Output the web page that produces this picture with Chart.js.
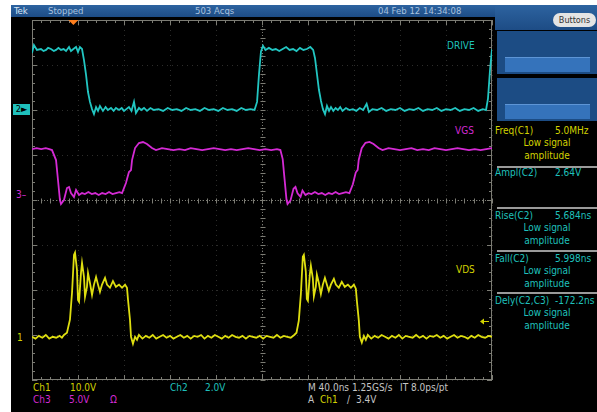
<!DOCTYPE html>
<html>
<head>
<meta charset="utf-8">
<script src="https://cdn.jsdelivr.net/npm/chart.js@4.4.1/dist/chart.umd.min.js"></script>
<style>
 body { margin:0; background:#fff; width:597px; height:412px; overflow:hidden; position:relative;
        font-family:"DejaVu Sans Condensed","Liberation Sans Narrow","Liberation Sans",sans-serif; }
 #scope { position:absolute; left:11px; top:5px; width:586px; height:407px; background:#000; }
 #topbar { position:absolute; left:11px; top:5px; width:586px; height:12px; background:linear-gradient(#2d63a0,#1d4c85); }
 #topright { position:absolute; left:495px; top:5px; width:102px; height:25px; background:linear-gradient(#2d63a0,#1d4c85); }
 .box { position:absolute; left:497px; width:100px; height:43px; background:#1c4c84; }
 .inner { position:absolute; left:8px; width:85px; height:14px; background:#3573bb; border-top:1px solid #5d95d6; }
 .sep { position:absolute; left:497px; width:100px; height:2px; background:#9a9a9a; }
 #btn { position:absolute; left:553px; top:13px; width:43px; height:14px; border-radius:7px; background:#e4e4e4;
        color:#333; font-size:9px; line-height:14px; text-align:center; }
 .t { position:absolute; font-size:10px; line-height:10px; white-space:nowrap; }
 .s { font-size:9.5px; }
 .y { color:#d2d200; } .c { color:#1fc0bc; } .m { color:#d22ad2; } .w { color:#c4c4c4; } .b { color:#a9c2df; }
 canvas { position:absolute; left:0; top:0; }
</style>
</head>
<body>
<div id="scope"></div>
<div id="topbar"></div>
<div id="topright"></div>
<div id="btn">Buttons</div>
<div class="box" style="top:31px"><div class="inner" style="top:26px"></div></div>
<div class="box" style="top:78px"><div class="inner" style="top:26px"></div></div>
<div class="sep" style="top:166px"></div>
<div class="sep" style="top:207px"></div>
<div class="sep" style="top:250px"></div>
<div class="sep" style="top:292px"></div>

<div class="t s" style="left:14px;top:6px;color:#d8e6f4">Tek</div>
<div class="t s b" style="left:48px;top:6px">Stopped</div>
<div class="t s b" style="left:195px;top:6px">503 Acqs</div>
<div class="t s b" style="left:378px;top:6px">04 Feb 12 14:34:08</div>

<div id="meas"></div>

<div class="t c" style="left:447px;top:41px">DRIVE</div>
<div class="t m" style="left:455px;top:126px">VGS</div>
<div class="t y" style="left:456px;top:265px">VDS</div>

<div class="t" style="left:13px;top:104px;width:17px;height:11px;background:#1fc0bc;color:#000;text-align:center;line-height:11px;font-size:9px">2&#9658;</div>
<div class="t m" style="left:16px;top:190px">3&#8211;</div>
<div class="t y" style="left:17px;top:333px">1</div>

<div class="t y" style="left:33px;top:383px">Ch1</div>
<div class="t y" style="left:70px;top:383px">10.0V</div>
<div class="t c" style="left:170px;top:383px">Ch2</div>
<div class="t c" style="left:205px;top:383px">2.0V</div>
<div class="t m" style="left:33px;top:395px">Ch3</div>
<div class="t m" style="left:69px;top:395px">5.0V</div>
<div class="t m" style="left:110px;top:395px">&#937;</div>
<div class="t w" style="left:308px;top:383px">M 40.0ns 1.25GS/s</div>
<div class="t w" style="left:400px;top:383px">IT 8.0ps/pt</div>
<div class="t w" style="left:308px;top:395px">A</div>
<div class="t y" style="left:320px;top:395px">Ch1</div>
<div class="t w" style="left:347px;top:395px">/</div>
<div class="t w" style="left:356px;top:395px">3.4V</div>

<canvas id="c" width="597" height="412"></canvas>

<script>
// time in ns, amplitude in volts
var drivePts = [
 [0,2.53],[1.7,2.89],[4.3,2.67],[7.8,2.71],[10,2.62],[12.2,2.67],[14,2.76],[16.5,2.71],[19,2.62],[20.9,2.67],[23,2.76],[25.2,2.67],[27.5,2.71],[29.6,2.62],[32.2,2.8],[33.9,2.62],[36,2.71],[38.3,2.8],[40,2.58],[41.7,2.8],[43.5,2.71],
 [45.2,2.22],[47,1.56],[48.7,0.8],[50.4,0.36],[52.2,0.04],[53.9,-0.18],[55.7,0.13],[57.4,-0.04],[59.1,0.18],[61.7,-0.04],[64,0.13],[66,0],[68.7,0.09],[71,-0.04],[73,0.09],[75.7,0],[78,0.09],[80,-0.04],[82,0.04],[84.3,0.13],[86.5,-0.04],[88.7,0.36],[90.4,-0.13],[93,0.09],[95,0],[97.4,0.09],[100,-0.04],[103,0.09],[106,0],[110,0.04],[114,-0.04],[118,0.09],[122,0],[126,0.04],[130,-0.04],[134,0.09],[138,0],[142,0.04],[146,-0.04],[150,0.09],[154,0],[158,0.04],[162,-0.04],[166,0.09],[170,0],[174,0.04],[178,-0.04],[182,0.09],[186,0],[190,0.04],[193.5,0],
 [195.7,0.36],[197.4,1.6],[199.1,2.6],[200.9,2.85],[203,2.67],[206,2.76],[209,2.67],[212,2.71],[215,2.62],[218,2.71],[221,2.8],[224,2.67],[227,2.71],[230,2.62],[233,2.76],[236,2.67],[239,2.71],[242,2.8],[244.5,2.67],
 [246.1,2.3],[247.8,1.6],[249.5,0.9],[251.3,0.4],[253,0.04],[254.8,-0.18],[256.5,0.18],[258.3,-0.04],[260,0.13],[262,-0.04],[264,0.09],[266,0],[268,0.13],[270,-0.04],[273,0.09],[276,0],[279,0.04],[282,-0.04],[285,0.09],[288,0],[291,0.27],[293,-0.09],[296,0.04],[300,0],[304,0.09],[308,-0.04],[312,0.04],[316,0],[320,0.09],[324,-0.04],[328,0.04],[332,0],[336,0.09],[340,-0.04],[344,0.04],[348,0],[352,0.09],[356,-0.04],[360,0.04],[364,0],[368,0.09],[372,-0.04],[376,0.04],[380,0],[384,0.09],[388,-0.04],[392,0.04],[394.8,0],[396.5,0.5],[398.3,1.8],[400,2.7]
];
var vgsPts = [
 [0,5.11],[4,5.22],[8,5.11],[12,5.22],[15,5.11],[17.4,5.0],[20.9,3.89],[22.6,1.67],[24.3,-0.56],[25.2,-1.0],[27.8,-0.56],[30.4,0.78],[32.2,0.89],[33.9,0.22],[36.5,-0.22],[38.3,0.56],[40.9,0],[43.5,0.22],[46,0.11],[49,0.33],[52,0.11],[55,0.22],[58,0],[61,0.22],[64,0.11],[67,0.33],[70,0.11],[73,0.22],[76,0.33],[78.3,0.22],
 [81.7,1.33],[84.3,2.56],[86.1,2.78],[87,3.89],[89.6,5.22],[93,5.78],[96.5,5.89],[100,5.67],[104.3,5.22],[107.8,5.0],[113,5.22],[118,5.11],[123,5.0],[128,5.11],[133,5.0],[138,5.22],[143,5.11],[148,5.0],[153,5.11],[158,5.22],[163,5.11],[168,5.0],[173,5.11],[178,5.0],[183,5.11],[188,5.22],[193,5.11],[198,5.0],[203,5.11],[208,5.0],[213,5.11],[216,5.0],
 [218,4.0],[219.6,1.8],[221.3,-0.5],[222.2,-1.0],[224.8,-0.6],[227.4,0.7],[229.1,0.9],[230.9,0.2],[233.5,-0.2],[235.2,0.5],[237.8,0],[240.4,0.2],[243,0.11],[246,0.33],[249,0.11],[252,0.22],[255,0],[258,0.22],[261,0.11],[264,0.33],[267,0.11],[270,0.22],[273,0.33],[276,0.22],
 [279,1.2],[281.5,2.5],[283.2,2.8],[284.1,3.9],[286.7,5.2],[290,5.8],[293.5,5.9],[297,5.67],[301.3,5.22],[304.8,5.0],[310,5.22],[315,5.11],[320,5.0],[325,5.11],[330,5.22],[335,5.0],[340,5.11],[345,5.0],[350,5.22],[355,5.11],[360,5.0],[365,5.11],[370,5.22],[375,5.11],[380,5.0],[385,5.11],[390,5.0],[395,5.11],[400,5.22]
];
var vdsPts = [
 [0,0],[3,-0.4],[6,0.2],[9,-0.2],[12,0.4],[15,-0.4],[18,0],[21,-0.2],[24,0.2],[26,-0.2],[27.8,0.4],[30.4,0.9],
 [33,3.8],[34.8,9.8],[36.5,18.2],[37.4,18.7],[39.1,14.9],[40,8.2],[40.9,7.8],[42.6,14.2],[43.5,16.4],[45.2,13.3],[46.1,8.9],[47.8,11.1],[48.7,14.2],[50.4,12.0],[52.2,9.3],[53.9,11.6],[55.7,13.3],[57.4,11.6],[59.1,10.0],[60.9,11.6],[63.5,13.1],[65.2,11.6],[67.8,10.9],[70.4,12.4],[73,11.1],[75.7,11.6],[78.3,10.9],[80.9,11.6],[82.6,10.9],
 [83.5,8.2],[85.2,3.8],[86.1,0],[87.8,-1.56],[89.6,0],[91.3,-0.67],[93,0.4],[96,-0.4],[99,0.2],[102,-0.2],[105,0.4],[108,-0.4],[111,0],[114,0.4],[117,-0.2],[120,0.2],[123,-0.4],[126,0],[129,0.4],[132,-0.2],[135,0.2],[138,-0.4],[141,0.2],[144,0],[147,0.4],[150,-0.4],[153,0.2],[156,-0.2],[159,0.4],[162,0],[165,-0.4],[168,0.2],[171,-0.2],[174,0.4],[177,0],[180,-0.2],[183,0.2],[186,-0.4],[189,0.2],[192,0],[195,-0.2],[198,0.2],[201,-0.4],[204,0.2],[207,0],[210,-0.2],[213,0.4],[216,-0.2],[219,0.2],[222,0],[225,-0.2],[228,0.4],[230,0.9],
 [232,3.6],[233.8,9.5],[235.5,17.8],[236.4,18.2],[238.1,14.5],[239,8.4],[239.9,8.0],[241.6,13.8],[242.5,15.8],[244.2,13.0],[245.1,9.0],[246.8,11.1],[247.7,13.8],[249.4,12.0],[251.2,9.5],[252.9,11.6],[254.7,13.1],[256.4,11.6],[258.1,10.2],[259.9,11.6],[262.5,12.9],[264.2,11.6],[266.8,10.9],[269.4,12.2],[272,11.1],[274.7,11.6],[277.3,10.9],[279.9,11.6],[281.6,10.7],
 [282.5,8.0],[284.2,3.6],[285.1,0],[286.8,-1.3],[288.6,0.2],[290.3,-0.67],[292,0.4],[295,-0.4],[298,0.2],[301,-0.2],[304,0.4],[307,0],[310,-0.4],[313,0.2],[316,-0.2],[319,0.4],[322,-0.4],[325,0.2],[328,0],[331,-0.2],[334,0.4],[337,-0.2],[340,0.2],[343,-0.4],[346,0.2],[349,0],[352,0.4],[355,-0.2],[358,0.2],[361,-0.4],[364,0],[367,0.4],[370,-0.2],[373,0.2],[376,0],[379,-0.4],[382,0.2],[385,-0.2],[388,0.4],[391,0],[394,-0.2],[397,0.2],[400,0]
];

// scope settings: volts per division and ground position in divisions from centre
var ch1 = { vdiv: 10, ground: -3.04 };
var ch2 = { vdiv: 2, ground: 2.0 };
var ch3 = { vdiv: 5, ground: 0.11 };
var nsPerDiv = 40;
var trigTime = 36, trigLevel = 3.4;

var measLabels = ['Freq(C1)', 'Ampl(C2)', 'Rise(C2)', 'Fall(C2)', 'Dely(C2,C3)'];
var measValues = ['5.0MHz', '2.64V', '5.684ns', '5.998ns', '-172.2ns'];
var measLow = [true, false, true, true, true];
var measTop = [126, 168, 211, 254, 296];

var meas = document.getElementById('meas');
measLabels.forEach(function(l, i) {
  var cls = i === 0 ? 'y' : 'c';
  var h = '<div class="t ' + cls + '" style="left:495px;top:' + measTop[i] + 'px">' + l + '</div>' +
          '<div class="t ' + cls + '" style="left:555px;top:' + measTop[i] + 'px">' + measValues[i] + '</div>';
  if (measLow[i]) {
    h += '<div class="t ' + cls + '" style="left:497px;width:100px;text-align:center;top:' + (measTop[i] + 12) + 'px">Low signal</div>' +
         '<div class="t ' + cls + '" style="left:497px;width:100px;text-align:center;top:' + (measTop[i] + 25) + 'px">amplitude</div>';
  }
  meas.innerHTML += h;
});

function toXY(p) { return { x: p[0], y: p[1] }; }
function chAxis(ch) { return { display: false, min: (-4 - ch.ground) * ch.vdiv, max: (4 - ch.ground) * ch.vdiv }; }

var graticule = {
  id: 'graticule',
  beforeDatasetsDraw: function(chart) {
    var ctx = chart.ctx, a = chart.chartArea, xs = chart.scales.x, ys = chart.scales.y;
    var cx = Math.round(xs.getPixelForValue(5 * nsPerDiv)) + 0.5;
    var cy = Math.round(ys.getPixelForValue(0)) + 0.5;
    ctx.save();
    ctx.strokeStyle = '#7c7c74';
    ctx.lineWidth = 1;
    ctx.strokeRect(a.left + 0.5, a.top + 0.5, a.right - a.left - 1, a.bottom - a.top - 1);
    ctx.beginPath();
    for (var i = 0; i <= 50; i++) {
      var px = Math.round(xs.getPixelForValue(i * nsPerDiv / 5)) + 0.5;
      var len = i % 5 === 0 ? 5 : 3;
      ctx.moveTo(px, a.top); ctx.lineTo(px, a.top + len);
      ctx.moveTo(px, a.bottom); ctx.lineTo(px, a.bottom - len);
      ctx.moveTo(px, cy - 2); ctx.lineTo(px, cy + 3);
    }
    for (var j = 0; j <= 40; j++) {
      var py = Math.round(ys.getPixelForValue(-4 + j * 0.2)) + 0.5;
      var l2 = j % 5 === 0 ? 5 : 3;
      ctx.moveTo(a.left, py); ctx.lineTo(a.left + l2, py);
      ctx.moveTo(a.right, py); ctx.lineTo(a.right - l2, py);
      ctx.moveTo(cx - 2, py); ctx.lineTo(cx + 3, py);
    }
    ctx.stroke();
    ctx.setLineDash([1, 2]);
    ctx.beginPath();
    ctx.moveTo(a.left, cy); ctx.lineTo(a.right, cy);
    ctx.moveTo(cx, a.top); ctx.lineTo(cx, a.bottom);
    ctx.stroke();
    ctx.setLineDash([]);
    // trigger position marker
    var tx = xs.getPixelForValue(trigTime);
    ctx.fillStyle = '#ff7f1e';
    ctx.beginPath();
    ctx.moveTo(tx - 5, a.top); ctx.lineTo(tx + 5, a.top); ctx.lineTo(tx, a.top + 5); ctx.closePath();
    ctx.fill();
    // trigger level arrow (Ch1)
    var ty = chart.scales.ch1.getPixelForValue(trigLevel);
    ctx.strokeStyle = '#d2d200'; ctx.fillStyle = '#d2d200';
    ctx.beginPath();
    ctx.moveTo(a.right - 3, ty); ctx.lineTo(a.right - 10, ty); ctx.stroke();
    ctx.beginPath();
    ctx.moveTo(a.right - 12, ty); ctx.lineTo(a.right - 8, ty - 3); ctx.lineTo(a.right - 8, ty + 3); ctx.closePath();
    ctx.fill();
    ctx.restore();
  }
};

new Chart(document.getElementById('c'), {
  type: 'line',
  data: {
    datasets: [
      { data: drivePts.map(toXY), yAxisID: 'ch2', borderColor: '#22c6c2', borderWidth: 1.8, pointRadius: 0 },
      { data: vgsPts.map(toXY), yAxisID: 'ch3', borderColor: '#d42ad4', borderWidth: 1.8, pointRadius: 0 },
      { data: vdsPts.map(toXY), yAxisID: 'ch1', borderColor: '#dede10', borderWidth: 1.8, pointRadius: 0 }
    ]
  },
  options: {
    responsive: false,
    animation: false,
    devicePixelRatio: 1,
    layout: { padding: { left: 32, right: 105, top: 20, bottom: 32 } },
    plugins: { legend: { display: false }, tooltip: { enabled: false } },
    elements: { line: { tension: 0 } },
    scales: {
      x: { type: 'linear', min: 0, max: 10 * nsPerDiv,
           ticks: { display: false, stepSize: nsPerDiv },
           grid: { color: 'rgba(90,90,85,0.5)', drawTicks: false },
           border: { display: false, dash: [1, 4] } },
      y: { min: -4, max: 4,
           ticks: { display: false, stepSize: 1 },
           grid: { color: 'rgba(90,90,85,0.5)', drawTicks: false },
           border: { display: false, dash: [1, 4] } },
      ch1: chAxis(ch1),
      ch2: chAxis(ch2),
      ch3: chAxis(ch3)
    }
  },
  plugins: [graticule]
});
</script>
</body>
</html>
